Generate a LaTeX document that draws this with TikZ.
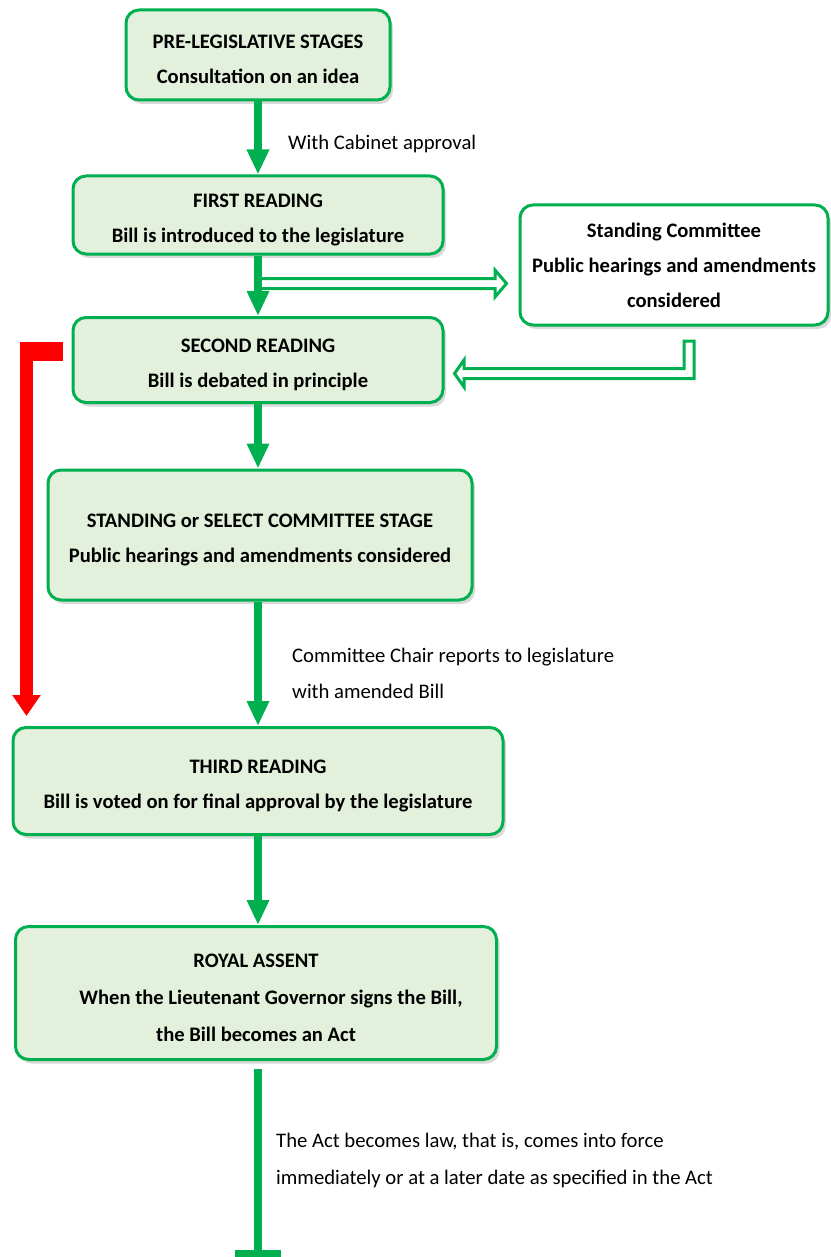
\documentclass[tikz,border=0pt]{standalone}
\usepackage{fontspec}
\setmainfont{Carlito}
\usetikzlibrary{arrows.meta,shadows,calc}
\definecolor{gborder}{RGB}{0,176,80}
\definecolor{gfill}{RGB}{227,240,219}
\definecolor{rarrow}{RGB}{255,0,0}
\newcommand{\topstrut}{\rule{0pt}{23pt}}
\begin{document}
\begin{tikzpicture}[x=1pt,y=-1pt,
  stage/.style={draw=gborder, line width=3pt, fill=gfill, rounded corners=13pt,
    align=center, font=\bfseries\fontsize{20.6}{35}\selectfont, inner sep=0pt,
    drop shadow={shadow xshift=3pt,shadow yshift=-4pt,opacity=0.3}},
  sidebox/.style={stage, fill=white},
  garrow/.style={draw=gborder, line width=8pt, -{Triangle[length=25pt,width=21pt]}},
  dblarrow/.style={draw=gborder, line width=3pt, fill=white, line join=miter},
  lbl/.style={anchor=west, align=left, inner sep=0pt, font=\fontsize{20.7}{36}\selectfont}]
\useasboundingbox (0,0) rectangle (830,1257);

\node[stage, minimum width=264pt, minimum height=90pt] (b1) at (258,55)
  {\topstrut PRE-LEGISLATIVE STAGES\\Consultation on an idea};
\node[stage, minimum width=370pt, minimum height=78pt] (b2) at (258,215)
  {\topstrut FIRST READING\\Bill is introduced to the legislature};
\node[sidebox, minimum width=308pt, minimum height=120pt] (b3) at (674,265)
  {Standing Committee\\Public hearings and amendments\\considered};
\node[stage, minimum width=370pt, minimum height=85pt] (b4) at (258,360)
  {\topstrut SECOND READING\\Bill is debated in principle};
\node[stage, minimum width=424pt, minimum height=130pt] (b5) at (260,535)
  {\topstrut STANDING or SELECT COMMITTEE STAGE\\Public hearings and amendments considered};
\node[stage, minimum width=490pt, minimum height=107pt] (b6) at (258,781)
  {\topstrut THIRD READING\\Bill is voted on for final approval by the legislature};
\node[stage, minimum width=481pt, minimum height=133pt,
  font=\bfseries\fontsize{20.6}{37}\selectfont] (b7) at (256,993)
  {\topstrut ROYAL ASSENT\\\hspace*{30pt}When the Lieutenant Governor signs the Bill,\\the Bill becomes an Act};

% main green connectors
\draw[garrow] (b1.south -| 258,0) -- (b2.north -| 258,0);
\draw[garrow] (b2.south -| 258,0) -- (b4.north -| 258,0);
\draw[garrow] (b4.south -| 258,0) -- (b5.north -| 258,0);
\draw[garrow] (b5.south -| 258,0) -- (b6.north -| 258,0);
\draw[garrow] (b6.south -| 258,0) -- (b7.north -| 258,0);
\coordinate (endbar) at (258,1257);
\draw[draw=gborder, line width=8pt, -{Rectangle[length=7pt,width=46pt]}]
  ($(b7.south -| 258,0)+(0,8)$) -- (endbar);

% double arrow to standing committee
\draw[dblarrow] (262,278.5) -- (495,278.5) -- (495,270) -- ($(b3.west)+(-12,18.5)$)
  -- (495,297) -- (495,288.5) -- (262,288.5);
% double arrow back to second reading
\draw[dblarrow] (684,341) -- (684,368.5) -- (464,368.5) -- (464,360)
  -- ($(b4.east)+(10,13.5)$) -- (464,387) -- (464,378.5) -- (694,378.5) -- (694,341) -- cycle;

% red bypass arrow
\fill[rarrow] (20,342) rectangle ($(b4.west)+(-9,1)$);
\coordinate (redend) at (26.5,716);
\draw[draw=rarrow, line width=13pt, -{Triangle[length=21pt,width=27pt]}] (26.5,342) -- (redend);

% labels
\node[lbl] (l1) at (288,144) {With Cabinet approval};
\node[lbl] (l2) at (292,673) {Committee Chair reports to legislature\\with amended Bill};
\node[lbl, font=\fontsize{20.7}{37}\selectfont] (l3) at (276,1160) {The Act becomes law, that is, comes into force\\immediately or at a later date as specified in the Act};
\end{tikzpicture}
\end{document}
